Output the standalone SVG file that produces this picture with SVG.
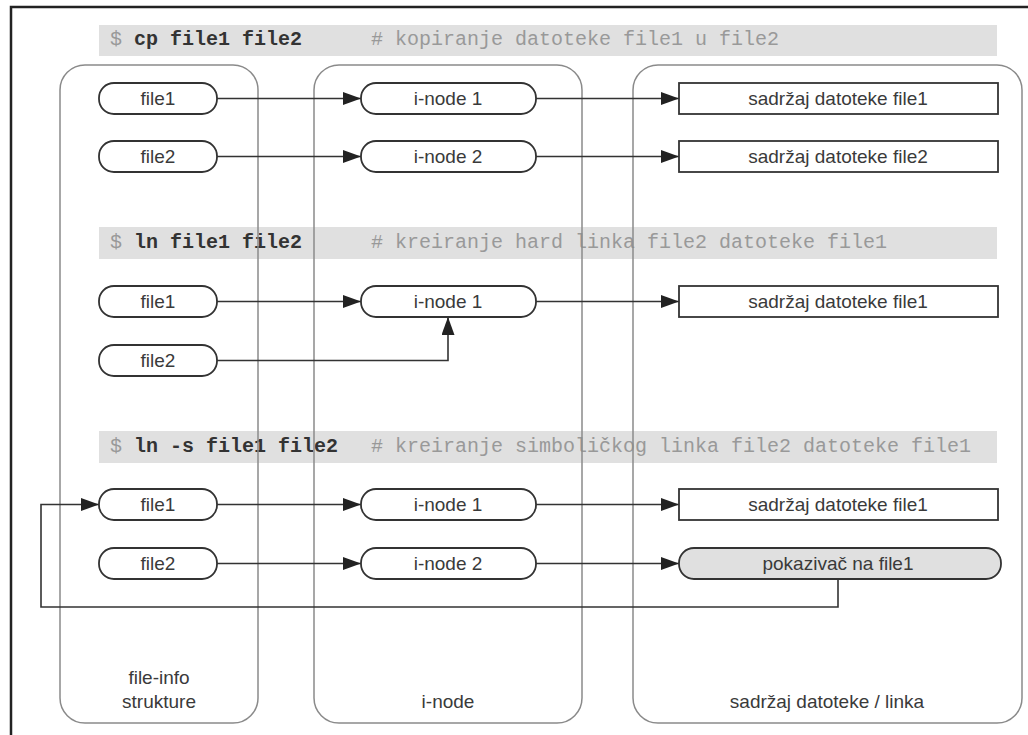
<svg xmlns="http://www.w3.org/2000/svg" width="1028" height="735" viewBox="0 0 1028 735">
<style>
.bar{fill:#e0e0e0}
.col{fill:none;stroke:#8a8a8a;stroke-width:1.5}
.nd{fill:#fff;stroke:#333;stroke-width:1.8}
.ptr{fill:#e0e0e0;stroke:#333;stroke-width:1.8}
.t{font-family:"Liberation Sans",Arial,sans-serif;font-size:19px;fill:#3a3a3a;text-anchor:middle}
.cmd{font-family:"Liberation Mono","Courier New",monospace;font-size:20px}
.g{fill:#999}
.b{fill:#333;font-weight:bold}
.cn{fill:none;stroke:#333;stroke-width:1.6}
</style>
<defs>
<marker id="ah" markerUnits="userSpaceOnUse" markerWidth="18" markerHeight="13" refX="18" refY="6.5" orient="auto">
<path d="M0,0 L18,6.5 L0,13 z" fill="#222"/>
</marker>
</defs>
<rect x="0" y="0" width="1028" height="735" fill="#fff"/>
<path d="M11,735 V7 H1028" fill="none" stroke="#222" stroke-width="2.5"/>
<g id="commands">
<rect class="bar" x="99" y="25" width="898" height="31"/>
<rect class="bar" x="99" y="227" width="898" height="32"/>
<rect class="bar" x="99" y="431" width="898" height="32"/>
<text class="cmd" y="45"><tspan class="g" x="110">$</tspan><tspan class="b" x="134">cp file1 file2</tspan><tspan class="g" x="371">#</tspan><tspan class="g" x="395">kopiranje datoteke file1 u file2</tspan></text>
<text class="cmd" y="248"><tspan class="g" x="110">$</tspan><tspan class="b" x="134">ln file1 file2</tspan><tspan class="g" x="371">#</tspan><tspan class="g" x="395">kreiranje hard linka file2 datoteke file1</tspan></text>
<text class="cmd" y="452"><tspan class="g" x="110">$</tspan><tspan class="b" x="134">ln -s file1 file2</tspan><tspan class="g" x="371">#</tspan><tspan class="g" x="395">kreiranje simboličkog linka file2 datoteke file1</tspan></text>
</g>
<g id="columns">
<g id="col-fileinfo"><rect class="col" x="60" y="65" width="198" height="658" rx="25"/><text class="t" x="159" y="684">file-info</text><text class="t" x="159" y="708">strukture</text></g>
<g id="col-inode"><rect class="col" x="314" y="65" width="268" height="658" rx="25"/><text class="t" x="448" y="708">i-node</text></g>
<g id="col-content"><rect class="col" x="633" y="65" width="389" height="658" rx="25"/><text class="t" x="827" y="708">sadržaj datoteke / linka</text></g>
</g>
<g id="connectors">
<path class="cn" d="M217,98.5 H361" marker-end="url(#ah)"/>
<path class="cn" d="M536,98.5 H679" marker-end="url(#ah)"/>
<path class="cn" d="M217,156.5 H361" marker-end="url(#ah)"/>
<path class="cn" d="M536,156.5 H679" marker-end="url(#ah)"/>
<path class="cn" d="M217,301.5 H361" marker-end="url(#ah)"/>
<path class="cn" d="M536,301.5 H679" marker-end="url(#ah)"/>
<path class="cn" d="M217,360.5 H448 V317" marker-end="url(#ah)"/>
<path class="cn" d="M217,504.5 H361" marker-end="url(#ah)"/>
<path class="cn" d="M536,504.5 H679" marker-end="url(#ah)"/>
<path class="cn" d="M217,563.5 H361" marker-end="url(#ah)"/>
<path class="cn" d="M536,563.5 H679" marker-end="url(#ah)"/>
<path class="cn" d="M838,579 V607 H41 V504.5 H99" marker-end="url(#ah)"/>
</g>
<g id="s1-file1"><rect class="nd" x="99" y="83" width="118" height="31" rx="15"/><text class="t" x="158" y="105">file1</text></g>
<g id="s1-file2"><rect class="nd" x="99" y="141" width="118" height="31" rx="15"/><text class="t" x="158" y="163">file2</text></g>
<g id="s1-inode1"><rect class="nd" x="361" y="83" width="175" height="31" rx="15"/><text class="t" x="448" y="105">i-node 1</text></g>
<g id="s1-inode2"><rect class="nd" x="361" y="141" width="175" height="31" rx="15"/><text class="t" x="448" y="163">i-node 2</text></g>
<g id="s1-content1"><rect class="nd" x="679" y="83" width="319" height="31"/><text class="t" x="838" y="105">sadržaj datoteke file1</text></g>
<g id="s1-content2"><rect class="nd" x="679" y="141" width="319" height="31"/><text class="t" x="838" y="163">sadržaj datoteke file2</text></g>
<g id="s2-file1"><rect class="nd" x="99" y="286" width="118" height="31" rx="15"/><text class="t" x="158" y="308">file1</text></g>
<g id="s2-file2"><rect class="nd" x="99" y="345" width="118" height="31" rx="15"/><text class="t" x="158" y="367">file2</text></g>
<g id="s2-inode1"><rect class="nd" x="361" y="286" width="175" height="31" rx="15"/><text class="t" x="448" y="308">i-node 1</text></g>
<g id="s2-content1"><rect class="nd" x="679" y="286" width="319" height="31"/><text class="t" x="838" y="308">sadržaj datoteke file1</text></g>
<g id="s3-file1"><rect class="nd" x="99" y="489" width="118" height="31" rx="15"/><text class="t" x="158" y="511">file1</text></g>
<g id="s3-file2"><rect class="nd" x="99" y="548" width="118" height="31" rx="15"/><text class="t" x="158" y="570">file2</text></g>
<g id="s3-inode1"><rect class="nd" x="361" y="489" width="175" height="31" rx="15"/><text class="t" x="448" y="511">i-node 1</text></g>
<g id="s3-inode2"><rect class="nd" x="361" y="548" width="175" height="31" rx="15"/><text class="t" x="448" y="570">i-node 2</text></g>
<g id="s3-content1"><rect class="nd" x="679" y="489" width="319" height="31"/><text class="t" x="838" y="511">sadržaj datoteke file1</text></g>
<g id="s3-pointer"><rect class="ptr" x="679" y="548" width="322" height="31" rx="15"/><text class="t" x="838" y="570">pokazivač na file1</text></g>
</svg>
